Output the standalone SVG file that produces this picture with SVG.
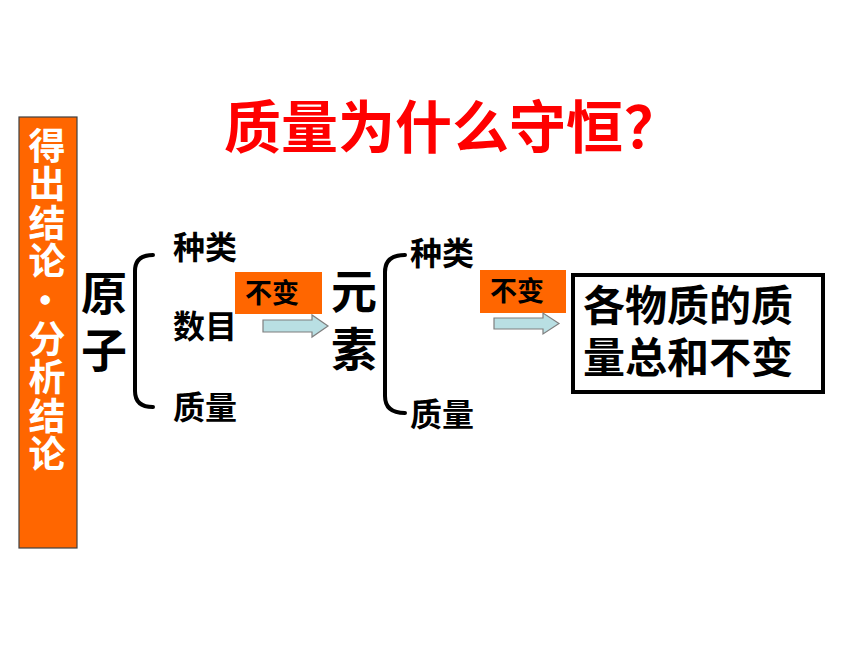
<svg xmlns="http://www.w3.org/2000/svg" width="860" height="645" viewBox="0 0 860 645">
<style>
text{font-family:"Noto Sans CJK SC","Noto Sans CJK JP",sans-serif;font-weight:bold;}
.t{fill:#ff0000;font-size:57px;}
.v{fill:#ffffff;font-size:37px;}
.big{fill:#000;font-size:46px;}
.item{fill:#000;font-size:32px;}
.tag{fill:#000;font-size:27px;}
.res{fill:#000;font-size:42px;}
.tagbox{fill:#ff6600;}
.brace{fill:none;stroke:#000;stroke-width:4;stroke-linecap:round;}
.arrow{fill:#b9dfe3;stroke:#7f7f7f;stroke-width:1.2;}
</style>
<rect width="860" height="645" fill="#ffffff"/>
<g id="title"><text class="t" x="224" y="148">质量为什么守恒<tspan x="624">？</tspan></text></g>
<g id="sidebar">
<rect x="19" y="117" width="58" height="431" fill="#ff6600" stroke="#404040" stroke-width="1.2"/>
<text class="v" x="47" y="127" writing-mode="vertical-rl" letter-spacing="1.6">得出结论·分析结论</text>
</g>
<g id="atom">
<text class="big" x="104" y="270" writing-mode="vertical-rl" letter-spacing="11">原子</text>
</g>
<g id="atom-items">
<text class="item" x="173" y="259">种类</text>
<text class="item" x="173" y="338">数目</text>
<text class="item" x="173" y="419">质量</text>
</g>
<g id="tag1">
<rect class="tagbox" x="235" y="272" width="87" height="42"/>
<text class="tag" x="245" y="303">不变</text>
</g>
<g id="element">
<text class="big" x="354" y="268" writing-mode="vertical-rl" letter-spacing="12">元素</text>
</g>
<g id="element-items">
<text class="item" x="410" y="265">种类</text>
<text class="item" x="410" y="426">质量</text>
</g>
<g id="tag2">
<rect class="tagbox" x="480" y="270" width="86" height="43"/>
<text class="tag" x="490" y="301">不变</text>
</g>
<g id="result">
<rect x="573" y="275" width="250" height="117" fill="#ffffff" stroke="#000" stroke-width="4"/>
<text class="res" x="583" y="321">各物质的质<tspan x="583" y="373">量总和不变</tspan></text>
</g>
<g id="connectors">
<path class="brace" d="M153,255 Q135,255 135,271 L135,391 Q135,407 153,407"/>
<path class="brace" d="M405,255 Q385,255 385,272 L385,396 Q385,413 405,413"/>
<path class="arrow" d="M263,320 L312,320 L312,315 L328,326 L312,337 L312,332 L263,332 Z"/>
<path class="arrow" d="M494,318 L543,318 L543,313 L559,323.5 L543,334 L543,329 L494,329 Z"/>
</g>
</svg>
